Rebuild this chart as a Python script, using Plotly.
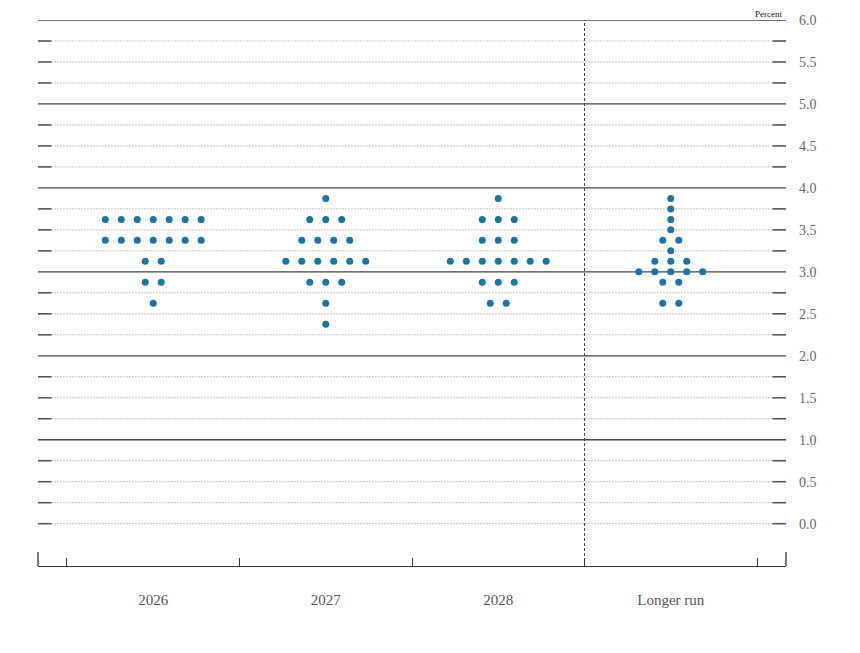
import numpy as np
import plotly.graph_objects as go

# Категории по оси X
categories = ['2026', '2027', '2028', 'Longer run']

# Уровни ставок (середины диапазонов) и число участников на каждом уровне
rates_2026 = [3.625, 3.375, 3.125, 2.875, 2.625]
counts_2026 = [7, 7, 2, 2, 1]

rates_2027 = [3.875, 3.625, 3.375, 3.125, 2.875, 2.625, 2.375]
counts_2027 = [1, 3, 4, 6, 3, 1, 1]

rates_2028 = [3.875, 3.625, 3.375, 3.125, 2.875, 2.625]
counts_2028 = [1, 3, 3, 7, 3, 2]

rates_lr = [3.875, 3.75, 3.625, 3.5, 3.375, 3.25, 3.125, 3.0, 2.875, 2.625]
counts_lr = [1, 1, 1, 1, 2, 1, 3, 5, 2, 2]

y_tickvals = [0.0, 0.5, 1.0, 1.5, 2.0, 2.5, 3.0, 3.5, 4.0, 4.5, 5.0, 5.5, 6.0]
y_ticktext = ['0.0', '0.5', '1.0', '1.5', '2.0', '2.5', '3.0', '3.5', '4.0', '4.5', '5.0', '5.5', '6.0']

DOT_COLOR = '#1b75a0'
SERIF = 'Liberation Serif, Times New Roman, serif'
STEP = 0.0926  # расстояние между точками в ряду (в единицах категории)

groups = [(rates_2026, counts_2026), (rates_2027, counts_2027),
          (rates_2028, counts_2028), (rates_lr, counts_lr)]

xs, ys = [], []
for i, (rates, counts) in enumerate(groups):
    for r, n in zip(rates, counts):
        for j in range(n):
            xs.append(i + (j - (n - 1) / 2) * STEP)
            ys.append(r)

fig = go.Figure()
fig.add_trace(go.Scatter(x=xs, y=ys, mode='markers',
                         marker=dict(size=7, color=DOT_COLOR, line=dict(width=0)),
                         hoverinfo='y', showlegend=False))

shapes = []
# Горизонтальные линии сетки: целые — сплошные, остальные — пунктир с засечками
for lvl in np.arange(0, 6.01, 0.25):
    if lvl > 0 and abs(lvl - round(lvl)) < 1e-9:
        shapes.append(dict(type='line', xref='paper', yref='y', x0=0, x1=1, y0=lvl, y1=lvl,
                           line=dict(color='#444', width=1.3), layer='below'))
    else:
        shapes.append(dict(type='line', xref='paper', yref='y', x0=0.018, x1=0.982, y0=lvl, y1=lvl,
                           line=dict(color='#888', width=1, dash='1px,2px'), layer='below'))
        for a, b in [(0, 0.018), (0.982, 1)]:
            shapes.append(dict(type='line', xref='paper', yref='y', x0=a, x1=b, y0=lvl, y1=lvl,
                               line=dict(color='#555', width=1.6), layer='below'))

# Вертикальная пунктирная линия перед "Longer run"
shapes.append(dict(type='line', xref='x', yref='paper', x0=2.5, x1=2.5, y0=0, y1=1,
                   line=dict(color='#444', width=1, dash='3px,2px'), layer='below'))
# Высокие засечки по краям нижней оси
for px in [0, 1]:
    shapes.append(dict(type='line', xref='paper', yref='paper', x0=px, x1=px, y0=0, y1=14 / 546,
                       line=dict(color='#333', width=1.3)))

# страница сдвигает график на 8px (отступ body), поэтому поля меньше
fig.update_layout(
    width=860, height=653,
    margin=dict(l=30, r=82, t=12, b=95),
    plot_bgcolor='white', paper_bgcolor='white',
    shapes=shapes,
    xaxis=dict(range=[-0.668, 3.668], tickmode='array', tickvals=[0, 1, 2, 3],
               ticktext=categories, showgrid=False, zeroline=False, automargin=False,
               showline=True, linecolor='#333', linewidth=1.3, ticks='',
               ticklabelstandoff=20,
               tickfont=dict(family=SERIF, size=15, color='#555'),
               minor=dict(tickmode='array', tickvals=[-0.5, 0.5, 1.5, 2.5, 3.5],
                          ticks='inside', ticklen=8, tickcolor='#333', tickwidth=1.3,
                          showgrid=False)),
    yaxis=dict(range=[-0.504, 6.0], side='right', tickmode='array', automargin=False,
               tickvals=y_tickvals, ticktext=y_ticktext, showgrid=False,
               zeroline=False, showline=False, ticks='', ticklabelstandoff=12,
               tickfont=dict(family=SERIF, size=14, color='#666')),
    annotations=[dict(text='Percent', xref='paper', yref='paper', x=0.996, y=1,
                      xanchor='right', yanchor='middle', yshift=6, borderpad=0,
                      showarrow=False,
                      font=dict(family=SERIF, size=9, color='#222'))],
)

fig.write_html("out.html")
